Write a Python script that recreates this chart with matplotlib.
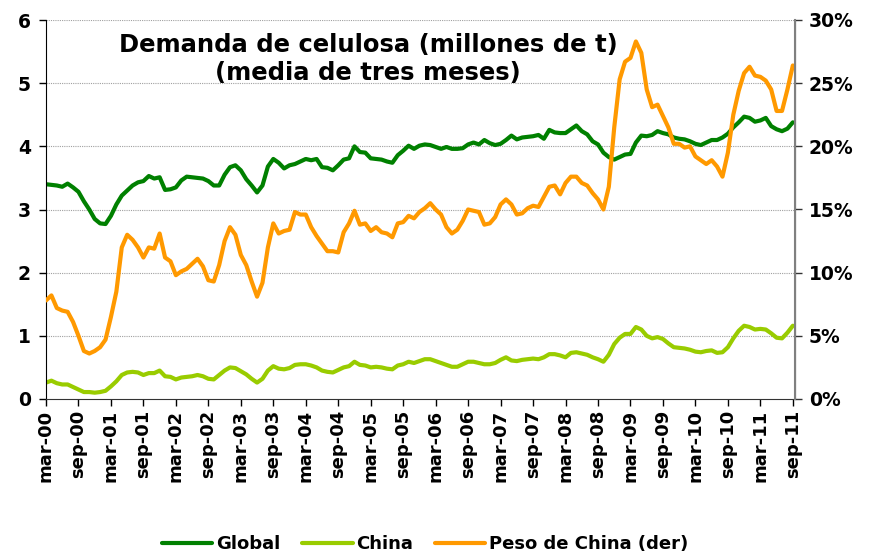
import numpy as np
import matplotlib
matplotlib.use("Agg")
import matplotlib.pyplot as plt
from matplotlib.transforms import ScaledTranslation

# monthly series, mar-00 .. sep-11 (3-month moving average)
global_demand = [
    3.40, 3.39, 3.38, 3.36, 3.41, 3.35, 3.28, 3.13, 3.00, 2.85,
    2.78, 2.77, 2.90, 3.08, 3.22, 3.30, 3.38, 3.43, 3.45, 3.53,
    3.49, 3.51, 3.31, 3.32, 3.35, 3.46, 3.52, 3.51, 3.50, 3.49,
    3.45, 3.38, 3.38, 3.55, 3.67, 3.70, 3.62, 3.48, 3.38, 3.27,
    3.38, 3.68, 3.80, 3.74, 3.65, 3.70, 3.72, 3.76, 3.80, 3.78,
    3.80, 3.67, 3.66, 3.62, 3.70, 3.79, 3.81, 4.00, 3.91, 3.90,
    3.81, 3.80, 3.79, 3.76, 3.74, 3.86, 3.93, 4.01, 3.96, 4.01,
    4.03, 4.02, 3.99, 3.96, 3.99, 3.96, 3.96, 3.97, 4.03, 4.06,
    4.03, 4.10, 4.05, 4.02, 4.04, 4.10, 4.17, 4.11, 4.14, 4.15,
    4.16, 4.18, 4.12, 4.26, 4.22, 4.21, 4.21, 4.27, 4.33, 4.24,
    4.19, 4.08, 4.03, 3.90, 3.83, 3.79, 3.83, 3.87, 3.88, 4.06,
    4.17, 4.16, 4.18, 4.24, 4.21, 4.19, 4.14, 4.12, 4.11, 4.08,
    4.04, 4.02, 4.06, 4.10, 4.10, 4.14, 4.20, 4.30, 4.38, 4.47,
    4.45, 4.39, 4.41, 4.45, 4.32, 4.27, 4.24, 4.28, 4.38,
]
china_demand = [
    0.26, 0.29, 0.25, 0.23, 0.23, 0.19, 0.15, 0.11, 0.11, 0.10,
    0.11, 0.13, 0.20, 0.28, 0.38, 0.42, 0.43, 0.42, 0.38, 0.41,
    0.41, 0.45, 0.36, 0.35, 0.31, 0.34, 0.35, 0.36, 0.38, 0.36,
    0.32, 0.31, 0.38, 0.45, 0.50, 0.49, 0.44, 0.39, 0.32, 0.26,
    0.32, 0.45, 0.52, 0.48, 0.47, 0.49, 0.54, 0.55, 0.55, 0.53,
    0.50, 0.45, 0.43, 0.42, 0.46, 0.50, 0.52, 0.59, 0.54, 0.53,
    0.50, 0.51, 0.50, 0.48, 0.47, 0.53, 0.55, 0.59, 0.57, 0.60,
    0.63, 0.63, 0.60, 0.57, 0.54, 0.51, 0.51, 0.55, 0.59, 0.59,
    0.57, 0.55, 0.55, 0.57, 0.62, 0.66, 0.61, 0.60, 0.62, 0.63,
    0.64, 0.63, 0.66, 0.71, 0.71, 0.69, 0.66, 0.73, 0.74, 0.72,
    0.70, 0.66, 0.63, 0.59, 0.70, 0.87, 0.97, 1.03, 1.03, 1.14,
    1.10, 1.00, 0.96, 0.98, 0.95, 0.88, 0.82, 0.81, 0.80, 0.78,
    0.75, 0.74, 0.76, 0.77, 0.73, 0.74, 0.82, 0.96, 1.08, 1.16,
    1.14, 1.10, 1.11, 1.10, 1.04, 0.97, 0.96, 1.05, 1.16,
]
china_share = [  # percent, right axis
    7.8, 8.2, 7.2, 7.0, 6.9, 6.1, 5.0, 3.8, 3.6, 3.8,
    4.1, 4.7, 6.5, 8.5, 12.0, 13.0, 12.6, 12.0, 11.2, 12.0,
    11.9, 13.1, 11.2, 10.9, 9.8, 10.1, 10.3, 10.7, 11.1, 10.5,
    9.4, 9.3, 10.6, 12.5, 13.6, 13.0, 11.4, 10.6, 9.3, 8.1,
    9.2, 12.0, 13.9, 13.1, 13.3, 13.4, 14.8, 14.6, 14.6, 13.6,
    12.9, 12.3, 11.7, 11.7, 11.6, 13.2, 13.9, 14.9, 13.8, 13.9,
    13.3, 13.6, 13.2, 13.1, 12.8, 13.9, 14.0, 14.5, 14.3, 14.8,
    15.1, 15.5, 15.0, 14.6, 13.6, 13.1, 13.4, 14.1, 15.0, 14.9,
    14.8, 13.8, 13.9, 14.4, 15.4, 15.8, 15.4, 14.6, 14.7, 15.1,
    15.3, 15.2, 16.0, 16.8, 16.9, 16.2, 17.1, 17.6, 17.6, 17.1,
    16.9, 16.3, 15.8, 15.0, 16.8, 21.5, 25.3, 26.7, 27.0, 28.3,
    27.4, 24.5, 23.1, 23.3, 22.4, 21.5, 20.2, 20.2, 19.9, 20.0,
    19.2, 18.9, 18.6, 18.9, 18.4, 17.6, 19.5, 22.5, 24.4, 25.8,
    26.3, 25.6, 25.5, 25.2, 24.5, 22.8, 22.8, 24.5, 26.4,
]
tick_labels = [
    'mar-00', 'sep-00', 'mar-01', 'sep-01', 'mar-02', 'sep-02',
    'mar-03', 'sep-03', 'mar-04', 'sep-04', 'mar-05', 'sep-05',
    'mar-06', 'sep-06', 'mar-07', 'sep-07', 'mar-08', 'sep-08',
    'mar-09', 'sep-09', 'mar-10', 'sep-10', 'mar-11', 'sep-11',
]

months = np.arange(len(global_demand))

fig = plt.figure(figsize=(8.73, 5.54), dpi=100)
ax = fig.add_axes([46 / 873, 1 - 399 / 554, 749 / 873, 379 / 554])
ax2 = ax.twinx()

ax.plot(months, global_demand, color='#008000', lw=3, label='Global',
        solid_capstyle='round', solid_joinstyle='round')
ax.plot(months, china_demand, color='#99cc00', lw=3, label='China',
        solid_capstyle='round', solid_joinstyle='round')
ax2.plot(months, china_share, color='#ff9900', lw=3, label='Peso de China (der)',
         solid_capstyle='round', solid_joinstyle='round')

ax.set_xlim(0, 138.4)
ax.set_ylim(0, 6)
ax2.set_ylim(0, 30)

ax.set_yticks(range(0, 7))
ax.set_yticklabels([str(v) for v in range(0, 7)], fontsize=13.5, fontweight='bold')
ax2.set_yticks(range(0, 31, 5))
ax2.set_yticklabels([f'{v}%' for v in range(0, 31, 5)], fontsize=13.5, fontweight='bold')

ax.set_xticks(np.arange(0, 139, 6))
ax.set_xticklabels(tick_labels, rotation=90, fontsize=13, fontweight='bold')
shift = ScaledTranslation(4 / 100, 0, fig.dpi_scale_trans)
for lab in ax.get_xticklabels():
    lab.set_transform(lab.get_transform() + shift)

# dotted horizontal gridlines
for v in range(1, 7):
    ax.axhline(v, color='#a0a0a0', lw=0.8, ls=(0, (1, 1)), zorder=0)

ax.spines['top'].set_visible(False)
ax2.spines['top'].set_visible(False)
ax.spines['left'].set_color('black')
ax.spines['bottom'].set_color('#333333')
ax2.spines['right'].set_color('#808080')
ax2.spines['right'].set_linewidth(1.5)
ax2.spines['left'].set_visible(False)
ax2.spines['bottom'].set_visible(False)

ax.tick_params(axis='y', direction='out', length=5, width=1, pad=6)
ax.tick_params(axis='x', direction='out', length=5, width=1, pad=3)
ax2.tick_params(axis='y', direction='out', length=5, width=1, color='#333333', pad=5)

fig.text(368 / 873, 1 - 59 / 554, 'Demanda de celulosa (millones de t)\n(media de tres meses)',
         ha='center', va='center', fontsize=17.5, fontweight='bold', linespacing=1.2)

handles = ax.get_lines()[:2] + ax2.get_lines()
fig.legend(handles, [h.get_label() for h in handles], loc='center',
           bbox_to_anchor=(425 / 873, 1 - 544 / 554), ncol=3, frameon=False,
           prop={'size': 13, 'weight': 'bold'}, handlelength=2.8,
           handletextpad=0.2, columnspacing=1.2)

fig.savefig('out.png', dpi=100)
